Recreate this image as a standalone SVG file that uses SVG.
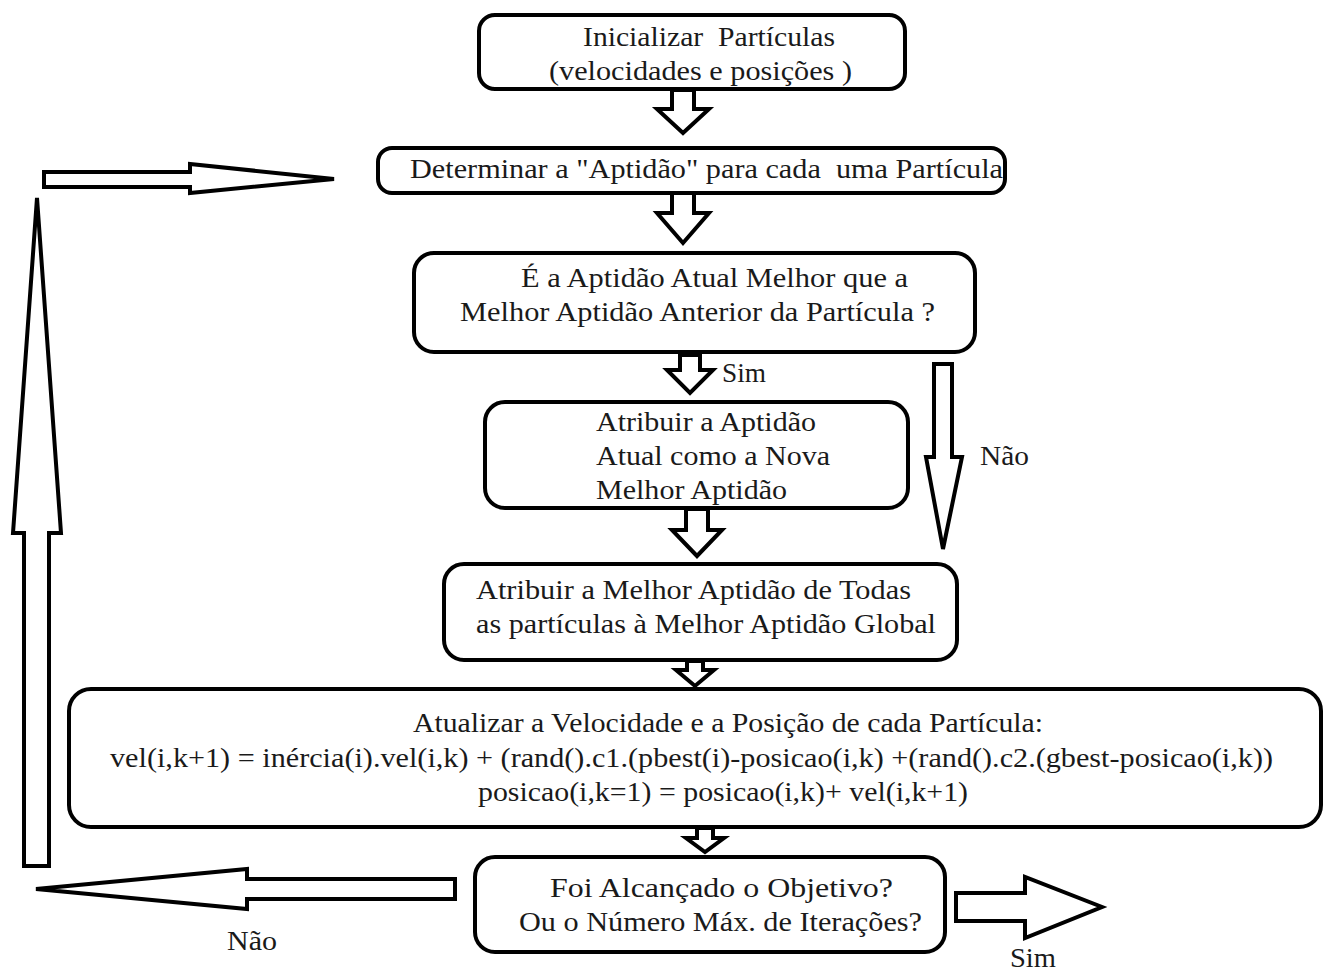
<svg xmlns="http://www.w3.org/2000/svg" width="1326" height="973" viewBox="0 0 1326 973" xml:space="preserve">
<style>
.box{fill:#fff;stroke:#000;stroke-width:4}
.arr{fill:#fff;stroke:#000;stroke-width:4;stroke-linejoin:miter}
text{font-family:"Liberation Serif","Times New Roman",serif;font-size:28px;fill:#1a1a1a;white-space:pre}
</style>
<rect width="1326" height="973" fill="#fff"/>
<g id="connectors">
<polygon class="arr" points="672,90 694,90 694,109 709,109 683,133 657,109 672,109"/>
<polygon class="arr" points="672,193 694,193 694,213 709,213 683,243 657,213 672,213"/>
<polygon class="arr" points="680,355 700,355 700,370 713,370 690,393 667,370 680,370"/>
<polygon class="arr" points="686,509 708,509 708,530 722,530 697,556 672,530 686,530"/>
<polygon class="arr" points="687,661 703,661 703,670 714,670 695,686 676,670 687,670"/>
<polygon class="arr" points="697,828 713,828 713,838 724,838 705,852 686,838 697,838"/>
<polygon class="arr" points="934,364 952,364 952,457 962,457 943,549 926,457 934,457"/>
<polygon class="arr" points="956,893 1025,893 1025,877 1102,907 1025,938 1025,921 956,921"/>
<polygon class="arr" points="455,879 455,899 247,899 247,909 36,889 247,869 247,879"/>
<polygon class="arr" points="24,866 49,866 49,533 61,533 37,198 13,533 24,533"/>
<polygon class="arr" points="44,172 190,172 190,164 334,179 190,193 190,187 44,187"/>
<text x="722" y="382" textLength="44" lengthAdjust="spacingAndGlyphs">Sim</text>
<text x="980" y="465" textLength="49" lengthAdjust="spacingAndGlyphs">Não</text>
<text x="1010" y="967" textLength="46" lengthAdjust="spacingAndGlyphs">Sim</text>
<text x="227" y="950" textLength="50" lengthAdjust="spacingAndGlyphs">Não</text>
</g>
<g id="n1">
<rect class="box" x="479" y="15" width="426" height="74" rx="16"/>
<text x="583" y="46" textLength="252" lengthAdjust="spacingAndGlyphs">Inicializar  Partículas</text>
<text x="549" y="80" textLength="303" lengthAdjust="spacingAndGlyphs">(velocidades e posições )</text>
</g>
<g id="n2">
<rect class="box" x="378" y="148" width="627" height="45" rx="14"/>
<text x="410" y="178" textLength="593" lengthAdjust="spacingAndGlyphs">Determinar a "Aptidão" para cada  uma Partícula</text>
</g>
<g id="n3">
<rect class="box" x="414" y="253" width="561" height="99" rx="20"/>
<text x="521" y="287" textLength="387" lengthAdjust="spacingAndGlyphs">É a Aptidão Atual Melhor que a</text>
<text x="460" y="321" textLength="475" lengthAdjust="spacingAndGlyphs">Melhor Aptidão Anterior da Partícula ?</text>
</g>
<g id="n4">
<rect class="box" x="485" y="402" width="423" height="106" rx="20"/>
<text x="596" y="431" textLength="220" lengthAdjust="spacingAndGlyphs">Atribuir a Aptidão</text>
<text x="596" y="465" textLength="234" lengthAdjust="spacingAndGlyphs">Atual como a Nova</text>
<text x="596" y="499" textLength="191" lengthAdjust="spacingAndGlyphs">Melhor Aptidão</text>
</g>
<g id="n5">
<rect class="box" x="444" y="564" width="513" height="96" rx="20"/>
<text x="476" y="599" textLength="435" lengthAdjust="spacingAndGlyphs">Atribuir a Melhor Aptidão de Todas</text>
<text x="476" y="633" textLength="460" lengthAdjust="spacingAndGlyphs">as partículas à Melhor Aptidão Global</text>
</g>
<g id="n6">
<rect class="box" x="69" y="689" width="1252" height="138" rx="22"/>
<text x="413" y="732" textLength="630" lengthAdjust="spacingAndGlyphs">Atualizar a Velocidade e a Posição de cada Partícula:</text>
<text x="110" y="767" textLength="1163" lengthAdjust="spacingAndGlyphs">vel(i,k+1) = inércia(i).vel(i,k) + (rand().c1.(pbest(i)-posicao(i,k) +(rand().c2.(gbest-posicao(i,k))</text>
<text x="478" y="801" textLength="490" lengthAdjust="spacingAndGlyphs">posicao(i,k=1) = posicao(i,k)+ vel(i,k+1)</text>
</g>
<g id="n7">
<rect class="box" x="475" y="857" width="470" height="95" rx="20"/>
<text x="550" y="897" textLength="343" lengthAdjust="spacingAndGlyphs">Foi Alcançado o Objetivo?</text>
<text x="519" y="931" textLength="403" lengthAdjust="spacingAndGlyphs">Ou o Número Máx. de Iterações?</text>
</g>
</svg>
